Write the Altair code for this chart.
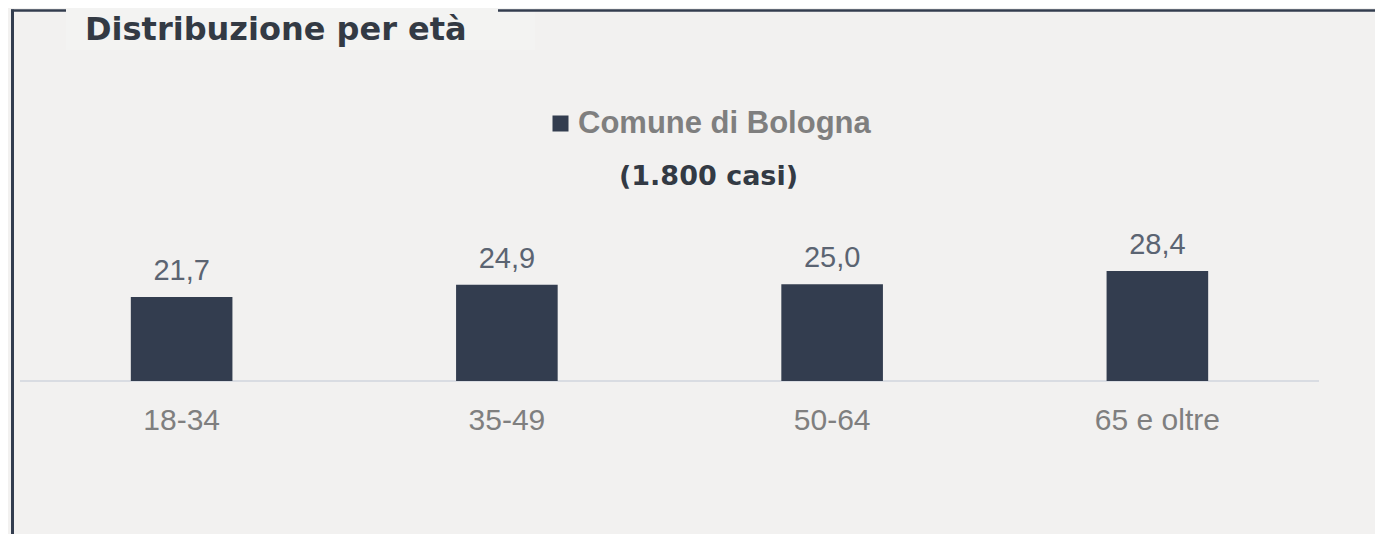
import altair as alt
import pandas as pd

# --- data ---
categorie = ["18-34", "35-49", "50-64", "65 e oltre"]
valori = [21.7, 24.9, 25.0, 28.4]
serie = "Comune di Bologna"
n_casi = 1800
titolo = "Distribuzione per età"

df = pd.DataFrame({
    "classe": categorie,
    "valore": valori,
    "serie": [serie] * len(categorie),
})
df["etichetta"] = [f"{v:.1f}".replace(".", ",") for v in valori]
casi_label = "(" + f"{n_casi:,}".replace(",", ".") + " casi)"

BG = "#f2f1f0"
BAR = "#333d4f"
DARK = "#333a44"

W, H = 1367, 526

xs = alt.Scale(domain=categorie, range=[11, 1312], paddingInner=0.6876, paddingOuter=0.3438)
ys = alt.Scale(domain=[0, 100], range=[373, -14])

base = alt.Chart(df)

bars = base.mark_bar(color=BAR).encode(
    x=alt.X("classe:N", scale=xs, axis=None, sort=categorie),
    y=alt.Y("valore:Q", scale=ys, axis=None),
    color=alt.Color(
        "serie:N",
        scale=alt.Scale(domain=[serie], range=[BAR]),
        legend=alt.Legend(
            orient="none", legendX=537, legendY=100, title=None, padding=0,
            symbolType="square", symbolSize=256, symbolStrokeWidth=0,
            labelFont="Liberation Sans", labelFontSize=31, labelFontWeight="bold",
            labelColor="#7f7f7f", labelOffset=2, labelLimit=0,
        ),
    ),
)

val_labels = base.mark_text(
    font="Liberation Sans", fontSize=29, color="#5b6472", baseline="alphabetic", dy=-17
).encode(
    x=alt.X("classe:N", scale=xs, axis=None, sort=categorie),
    y=alt.Y("valore:Q", scale=ys, axis=None),
    text="etichetta:N",
)

cat_labels = base.mark_text(
    font="Liberation Sans", fontSize=30, color="#7f7f7f", baseline="alphabetic"
).encode(
    x=alt.X("classe:N", scale=xs, axis=None, sort=categorie),
    y=alt.value(422),
    text="classe:N",
)

baseline_rule = alt.Chart(pd.DataFrame({"z": [0]})).mark_rule(color="#d9dce2", strokeWidth=2).encode(
    x=alt.value(12), x2=alt.value(1311), y=alt.Y("z:Q", scale=ys, axis=None)
)

casi = alt.Chart(pd.DataFrame({"t": [casi_label]})).mark_text(
    font="DejaVu Sans", fontSize=27, fontWeight="bold", color=DARK, align="center", baseline="alphabetic"
).encode(x=alt.value(700.5), y=alt.value(177), text="t:N")

# frame and title box
title_box = alt.Chart(pd.DataFrame({"a": [0]})).mark_rect(color="#f3f3f2").encode(
    x=alt.value(58), x2=alt.value(527), y=alt.value(0), y2=alt.value(42)
)
frame_left = alt.Chart(pd.DataFrame({"a": [0]})).mark_rule(color=BAR, strokeWidth=3).encode(
    x=alt.value(4.5), y=alt.value(1.5), y2=alt.value(H)
)
frame_top1 = alt.Chart(pd.DataFrame({"a": [0]})).mark_rule(color=BAR, strokeWidth=2.5).encode(
    x=alt.value(3), x2=alt.value(58), y=alt.value(2.5)
)
frame_top2 = alt.Chart(pd.DataFrame({"a": [0]})).mark_rule(color=BAR, strokeWidth=2.5).encode(
    x=alt.value(490), x2=alt.value(W), y=alt.value(2.5)
)
title = alt.Chart(pd.DataFrame({"t": [titolo]})).mark_text(
    font="DejaVu Sans", fontSize=32, fontWeight="bold", color=DARK, align="left", baseline="alphabetic"
).encode(x=alt.value(77), y=alt.value(32), text="t:N")

chart = alt.layer(
    title_box, frame_left, frame_top1, frame_top2, title,
    baseline_rule, bars, val_labels, cat_labels, casi,
).properties(
    width=W, height=H, background=BG, padding=0,
    autosize=alt.AutoSizeParams(type="none"),
).configure_view(stroke=None)

chart.save("out.html", embed_options={"renderer": "svg", "actions": False})
